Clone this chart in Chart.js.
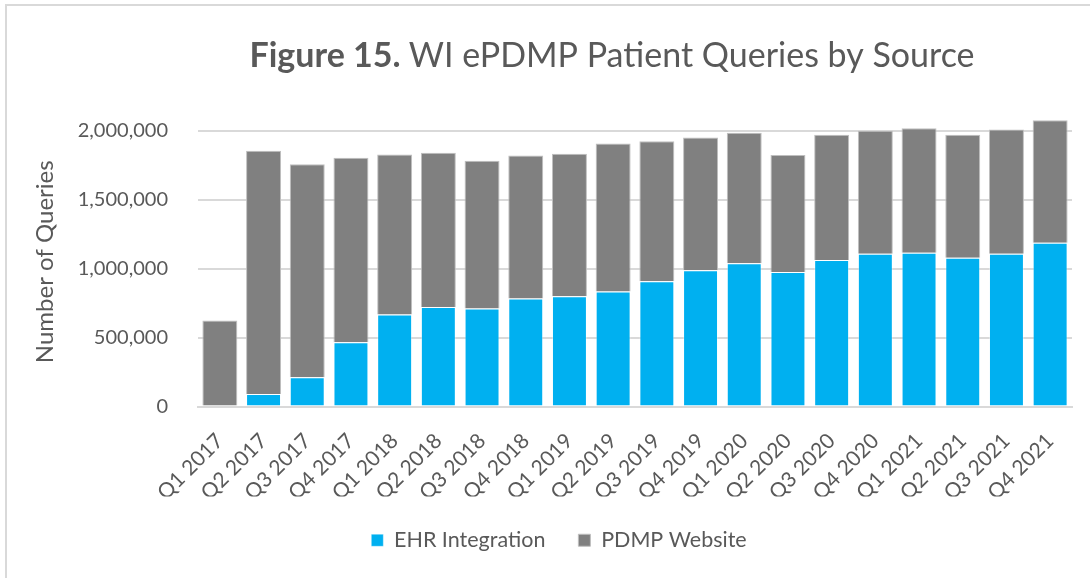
<!DOCTYPE html>
<html>
<head>
<meta charset="utf-8">
<script src="https://cdn.jsdelivr.net/npm/chart.js@4"></script>
<style>
  html, body { margin: 0; padding: 0; background: #fff; }
  #wrap { position: relative; width: 1090px; height: 578px; }
  #frame { position: absolute; left: 5px; top: 4px; width: 1200px; height: 700px;
           border-left: 2px solid #d9d9d9; border-top: 2px solid #d9d9d9; pointer-events: none; }
</style>
</head>
<body>
<div id="wrap">
  <canvas id="queriesChart" width="1090" height="578"></canvas>
  <div id="frame"></div>
</div>
<script>
const quarters = ['Q1 2017', 'Q2 2017', 'Q3 2017', 'Q4 2017', 'Q1 2018', 'Q2 2018', 'Q3 2018', 'Q4 2018',
  'Q1 2019', 'Q2 2019', 'Q3 2019', 'Q4 2019', 'Q1 2020', 'Q2 2020', 'Q3 2020', 'Q4 2020',
  'Q1 2021', 'Q2 2021', 'Q3 2021', 'Q4 2021'];
const ehrIntegration = [0, 90000, 213000, 466000, 667000, 722000, 710000, 783000,
  800000, 834000, 908000, 988000, 1039000, 976000, 1063000, 1108000,
  1116000, 1079000, 1108000, 1188000];
const pdmpWebsite = [623000, 1765000, 1545000, 1338000, 1161000, 1119000, 1073000, 1038000,
  1033000, 1074000, 1017000, 964000, 947000, 848000, 908000, 892000,
  903000, 892000, 902000, 889000];
const yTicks = [0, 500000, 1000000, 1500000, 2000000];

const textGrey = '#595959';
const fontName = 'Lato, "Open Sans", sans-serif';

// title has a bold part and a normal part, so draw it by hand
const titlePlugin = {
  id: 'mixedTitle',
  afterLayout(chart) {
    // legend in the original sits a bit right of the page centre
    chart.legend.left += 46;
  },
  afterDraw(chart) {
    const ctx = chart.ctx;
    const boldPart = 'Figure 15. ';
    const restPart = 'WI ePDMP Patient Queries by Source';
    ctx.save();
    ctx.fillStyle = textGrey;
    ctx.textBaseline = 'alphabetic';
    ctx.font = 'bold 34px ' + fontName;
    const w1 = ctx.measureText(boldPart).width;
    ctx.font = '34px ' + fontName;
    const w2 = ctx.measureText(restPart).width;
    let x = 612 - (w1 + w2) / 2;
    ctx.font = 'bold 34px ' + fontName;
    ctx.fillText(boldPart, x, 67);
    ctx.font = '34px ' + fontName;
    ctx.fillText(restPart, x + w1, 67);
    ctx.restore();
  }
};

const ctx = document.getElementById('queriesChart').getContext('2d');
new Chart(ctx, {
  type: 'bar',
  data: {
    labels: quarters,
    datasets: [{
      label: 'EHR Integration',
      data: ehrIntegration,
      backgroundColor: '#00b0f0',
      borderColor: 'rgba(255,255,255,0.35)',
      borderWidth: 1,
      barPercentage: 0.8,
      categoryPercentage: 1.0
    }, {
      label: 'PDMP Website',
      data: pdmpWebsite,
      backgroundColor: '#808080',
      borderColor: '#bfbfbf',
      borderWidth: 1,
      barPercentage: 0.8,
      categoryPercentage: 1.0
    }]
  },
  options: {
    responsive: false,
    animation: false,
    layout: { padding: { left: 0, right: 18, top: 117, bottom: 17 } },
    plugins: {
      title: { display: false },
      tooltip: { enabled: false },
      legend: {
        position: 'bottom',
        labels: {
          color: textGrey,
          font: { family: fontName, size: 21.5 },
          boxWidth: 12,
          boxHeight: 12,
          padding: 33,
          useBorderRadius: false
        }
      }
    },
    scales: {
      x: {
        stacked: true,
        grid: { display: false },
        border: { display: true, color: '#d9d9d9', width: 2 },
        ticks: {
          color: textGrey,
          font: { family: fontName, size: 21 },
          maxRotation: 45,
          minRotation: 45,
          padding: 14,
          autoSkip: false
        },
        afterFit(scale) { scale.height = 90; }
      },
      y: {
        stacked: true,
        min: 0,
        max: 2100000,
        afterBuildTicks(axis) {
          axis.ticks = yTicks.map(v => ({ value: v }));
        },
        afterFit(scale) { scale.width = 198; },
        grid: { color: '#d9d9d9', lineWidth: 2, drawTicks: false },
        border: { display: false },
        ticks: {
          color: textGrey,
          font: { family: fontName, size: 20 },
          padding: 30,
          callback: v => v.toLocaleString('en-US')
        },
        title: {
          display: true,
          text: 'Number of Queries',
          color: textGrey,
          font: { family: fontName, size: 24 },
          padding: { top: 31, bottom: 10 }
        }
      }
    }
  },
  plugins: [titlePlugin]
});
</script>
</body>
</html>
